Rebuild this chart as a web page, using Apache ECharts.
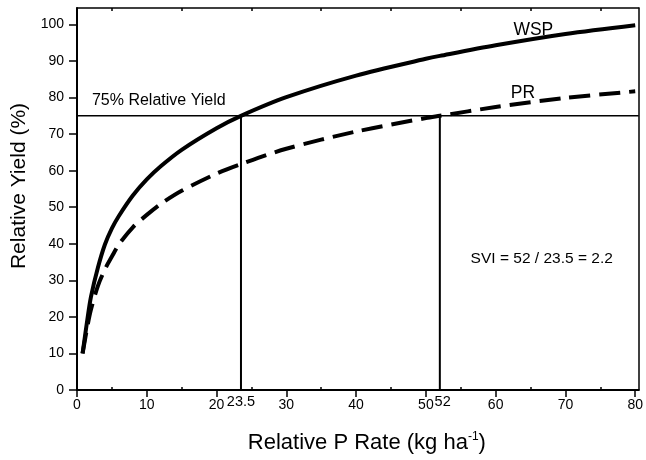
<!DOCTYPE html>
<html><head><meta charset="utf-8">
<script src="https://cdn.jsdelivr.net/npm/echarts@6/dist/echarts.min.js"></script>
<style>html,body{margin:0;padding:0;background:#fff}#c{width:646px;height:460px}</style>
</head><body><div id="c"></div>
<script>
// ---- data ----
const rates    = [0.8, 1.5, 2, 3, 4, 5, 6, 8, 10, 12, 15, 20, 23.5, 30, 40, 50, 52, 60, 70, 80];
const wspYield = [10, 19.5, 25.5, 33.5, 39.8, 44.2, 47.6, 53.2, 57.6, 61.2, 65.7, 71.6, 75, 80.1, 86, 90.6, 91.4, 94.3, 97.4, 99.8];
const prYield  = [10, 17.5, 22, 28.5, 33, 36.5, 39.8, 44.5, 47.9, 50.9, 54.5, 59.2, 61.8, 66, 70.7, 74.4, 75, 77.4, 79.9, 81.7];
const xTicks      = [0, 10, 20, 30, 40, 50, 60, 70, 80];
const xMinorTicks = [5, 15, 25, 35, 45, 55, 65, 75];
const yTicks      = [0, 10, 20, 30, 40, 50, 60, 70, 80, 90, 100];
const seriesNames = ['WSP', 'PR'];
const targetYield = 75;
const wspRate75 = 23.5;
const prRate75  = 52;
const targetLabel = '75% Relative Yield';
const sviLabel = 'SVI = 52 / 23.5 = 2.2';

const font = '"Liberation Sans", Arial, Helvetica, sans-serif';
const X_MAX = 80.5, Y_MAX = 104.5;
const pairs = (xs, ys) => xs.map((x, i) => [x, ys[i]]);
const black = '#000';

const chart = echarts.init(document.getElementById('c'), null, {renderer: 'canvas'});

function txt(name, x, y, size, pos) {
  return {name: name, value: [x, y],
    label: {show: true, position: pos || 'inside', distance: 0, formatter: name,
            color: black, fontSize: size, fontFamily: font, textBorderWidth: 0, opacity: 1}};
}

const option = {
  animation: false,
  backgroundColor: '#fff',
  grid: {left: 77, right: 4, top: 8, bottom: 66},
  xAxis: [
    {type: 'value', min: 0, max: X_MAX, position: 'bottom',
     axisLine: {show: true, onZero: false, lineStyle: {color: black, width: 2}},
     axisTick: {show: true, customValues: xTicks, inside: false, length: 7, lineStyle: {color: black, width: 1.5}},
     axisLabel: {customValues: xTicks, margin: 8, color: black, fontSize: 14, fontFamily: font},
     splitLine: {show: false},
     name: 'Relative P Rate (kg ha{sup|-1})', nameLocation: 'middle', nameGap: 41,
     nameTextStyle: {color: black, fontSize: 22, fontFamily: font, lineHeight: 24, padding: [0, 0, 0, 18],
       rich: {sup: {fontSize: 12, fontFamily: font, color: black, verticalAlign: 'top', lineHeight: 12, padding: [0, 0, 10, 0]}}}},
    {type: 'value', min: 0, max: X_MAX, position: 'bottom',
     axisLine: {show: false, onZero: false},
     axisTick: {show: true, customValues: xMinorTicks, inside: true, length: 3, lineStyle: {color: black, width: 1.5}},
     axisLabel: {show: false}, splitLine: {show: false}},
    {type: 'value', min: 0, max: X_MAX, position: 'top',
     axisLine: {show: true, onZero: false, lineStyle: {color: black, width: 1.5}},
     axisTick: {show: true, customValues: xMinorTicks, inside: true, length: 3, lineStyle: {color: black, width: 1.5}},
     axisLabel: {show: false}, splitLine: {show: false}}
  ],
  yAxis: [
    {type: 'value', min: 0, max: Y_MAX, position: 'left',
     axisLine: {show: true, onZero: false, lineStyle: {color: black, width: 2}},
     axisTick: {show: true, customValues: yTicks, inside: false, length: 8, lineStyle: {color: black, width: 1.5}},
     axisLabel: {customValues: yTicks, margin: 13, color: black, fontSize: 14, fontFamily: font},
     splitLine: {show: false},
     name: 'Relative Yield (%)', nameLocation: 'middle', nameGap: 44,
     nameTextStyle: {color: black, fontSize: 21, fontFamily: font, padding: [0, 0, 0, 26]}},
    {type: 'value', min: 0, max: Y_MAX, position: 'right',
     axisLine: {show: true, onZero: false, lineStyle: {color: black, width: 1.5}},
     axisTick: {show: false}, axisLabel: {show: false}, splitLine: {show: false}}
  ],
  series: [
    {name: seriesNames[0], type: 'line', data: pairs(rates, wspYield), smooth: 0.3, symbol: 'none',
     lineStyle: {color: black, width: 4}, z: 4},
    {name: seriesNames[1], type: 'line', data: pairs(rates, prYield), smooth: 0.3, symbol: 'none',
     lineStyle: {color: black, width: 4, type: [21, 9], cap: 'butt'}, z: 4},
    {type: 'line', data: [[0, targetYield], [X_MAX, targetYield]], symbol: 'none',
     lineStyle: {color: black, width: 1.5}, z: 3},
    {type: 'line', data: [[wspRate75, 0], [wspRate75, targetYield]], symbol: 'none',
     lineStyle: {color: black, width: 2}, z: 3},
    {type: 'line', data: [[prRate75, 0], [prRate75, targetYield]], symbol: 'none',
     lineStyle: {color: black, width: 2}, z: 3},
    {type: 'scatter', symbolSize: 0, itemStyle: {color: black}, clip: false, silent: true, z: 5,
     data: [
       txt(targetLabel, 2.14, 79.3, 16, 'right'),
       txt(seriesNames[0], 65.4, 98.4, 17.5),
       txt(seriesNames[1], 63.9, 81.3, 17.5),
       txt(sviLabel, 66.6, 36.0, 15.5),
       txt(String(wspRate75), wspRate75, -3.3, 14.5),
       txt(String(prRate75), prRate75 + 0.4, -3.3, 14.5)
     ]}
  ]
};
chart.setOption(option);
</script></body></html>
